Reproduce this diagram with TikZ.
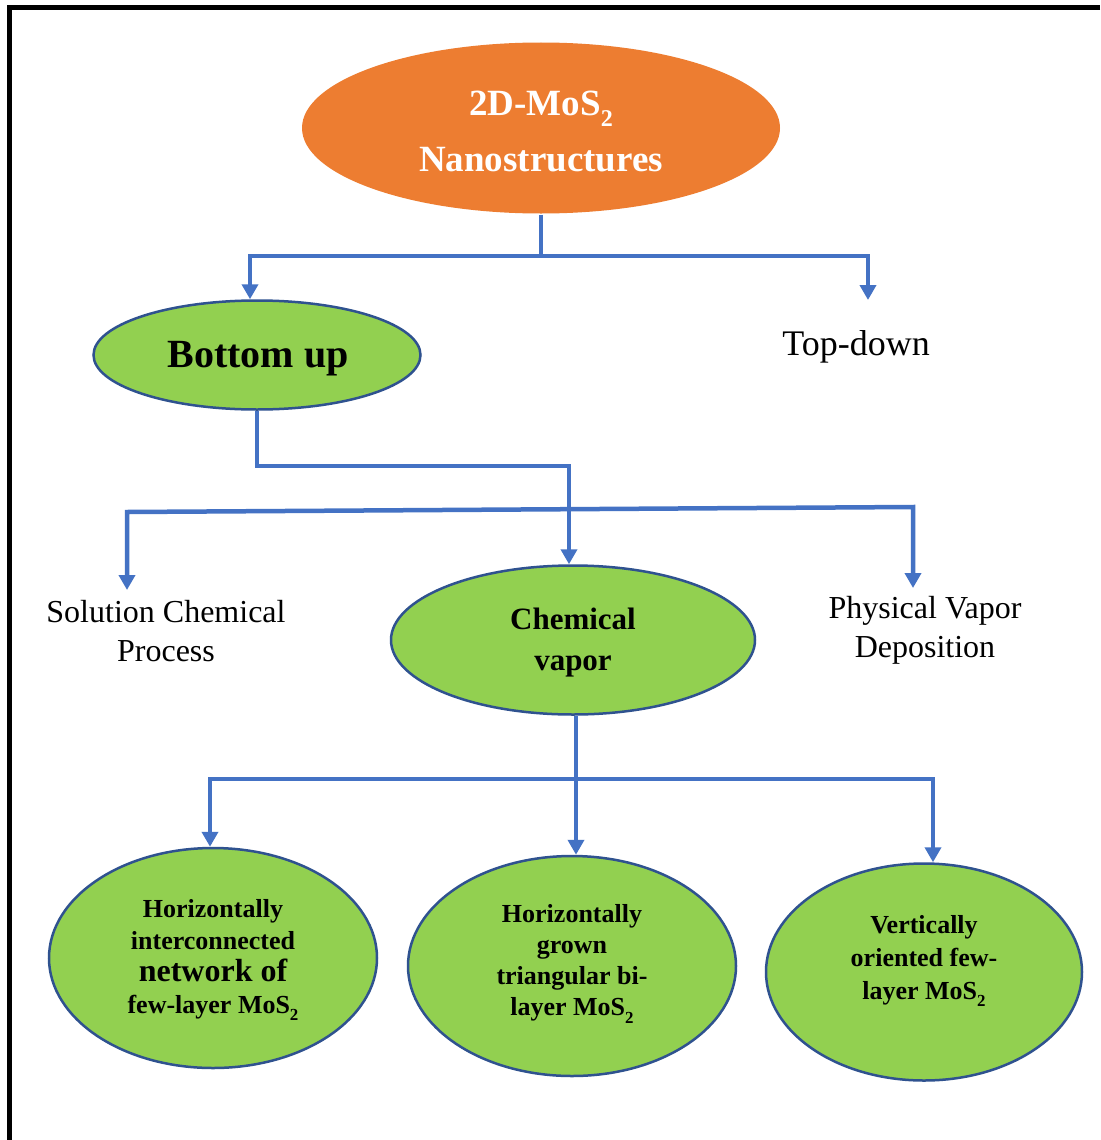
\documentclass[tikz,border=0pt]{standalone}
\usepackage{fontspec}
\usepackage{graphicx}
\setmainfont{Liberation Serif}
\usetikzlibrary{shapes.geometric,arrows.meta}
\definecolor{orng}{HTML}{ED7D31}
\definecolor{lgreen}{HTML}{92D050}
\definecolor{edgeblue}{HTML}{2F528F}
\definecolor{lineblue}{HTML}{4472C4}
\newcommand\subtwo{\raisebox{-0.3em}{\scalebox{0.65}{2}}}
\begin{document}
\begin{tikzpicture}[x=1pt,y=-1pt,
  ell/.style={ellipse,draw=edgeblue,line width=2.5pt,fill=lgreen,inner sep=0pt,align=center},
  conn/.style={draw=lineblue,line width=4.5pt},
  tip/.tip={Triangle[width=16pt,length=15pt]},
  arr/.style={conn,-tip},
  plain/.style={align=center,font=\fontsize{32}{39}\selectfont},
  btxt/.style={align=center,font=\fontsize{26}{31}\selectfont\bfseries},
]
\useasboundingbox (0,0) rectangle (1100,1140);
\fill[white] (0,0) rectangle (1100,1140);
\draw[line width=5pt] (1100,7.5) -- (9.5,7.5) -- (9.5,1140);

% nodes
\node[ell,draw=none,fill=orng,minimum width=478pt,minimum height=171pt] (top) at (541,128) {};
\node[align=center,text=white,font=\fontsize{37}{56}\selectfont\bfseries] (topt) at (541,131)
      {2D-MoS\subtwo\\Nanostructures};
\node[ell,minimum width=327pt,minimum height=109pt] (bu) at (257,355) {};
\node[font=\fontsize{40}{48}\selectfont\bfseries] (but) at (258,359) {Bottom up};
\node[font=\fontsize{36}{42}\selectfont] (td) at (856,347) {Top-down};
\node[plain] (sc) at (166,631) {Solution Chemical\\Process};
\node[plain] (pv) at (925,630) {Physical Vapor\\Deposition};
\node[ell,minimum width=364pt,minimum height=149pt] (cv) at (573,640) {};
\node[align=center,font=\fontsize{31}{41}\selectfont\bfseries] (cvt) at (573,643) {Chemical\\vapor};

\node[ell,minimum width=328pt,minimum height=220pt] (h1) at (213,958) {};
\node[btxt,font=\fontsize{26}{32}\selectfont\bfseries] (h1t) at (213,960)
      {Horizontally\\interconnected\\{\fontsize{32}{32}\selectfont network of}\\few-layer MoS\subtwo};
\node[ell,minimum width=328pt,minimum height=220pt] (h2) at (572,966) {};
\node[btxt] (h2t) at (572,964) {Horizontally\\grown\\triangular bi-\\layer MoS\subtwo};
\node[ell,minimum width=316pt,minimum height=217pt] (v1) at (924,972) {};
\node[btxt,font=\fontsize{26}{33}\selectfont\bfseries] (v1t) at (924,961)
      {Vertically\\oriented few-\\layer MoS\subtwo};

% connectors
\coordinate (tj) at (top.south |- 0,256);
\coordinate (tdarr) at (868,300);
\draw[arr] (top.south) -- (tj) -| ([xshift=-7pt]bu.north);
\draw[arr] (tj) -| (tdarr);

\draw[arr] (bu.south) -- (bu.south |- 0,466) -| ([xshift=-4pt]cv.north);

\coordinate (sca) at (127,590);
\coordinate (pva) at (913,588);
\draw[conn,tip-tip] (sca) -- (127,512) -- (913,507) -- (pva);

\coordinate (bj) at (576,779);
\draw[arr] (cv.south -| bj) -- (h2.north -| bj);
\draw[arr] (bj) -| ([xshift=-3pt]h1.north);
\draw[arr] (bj) -| ([xshift=9pt]v1.north);
\end{tikzpicture}
\end{document}
